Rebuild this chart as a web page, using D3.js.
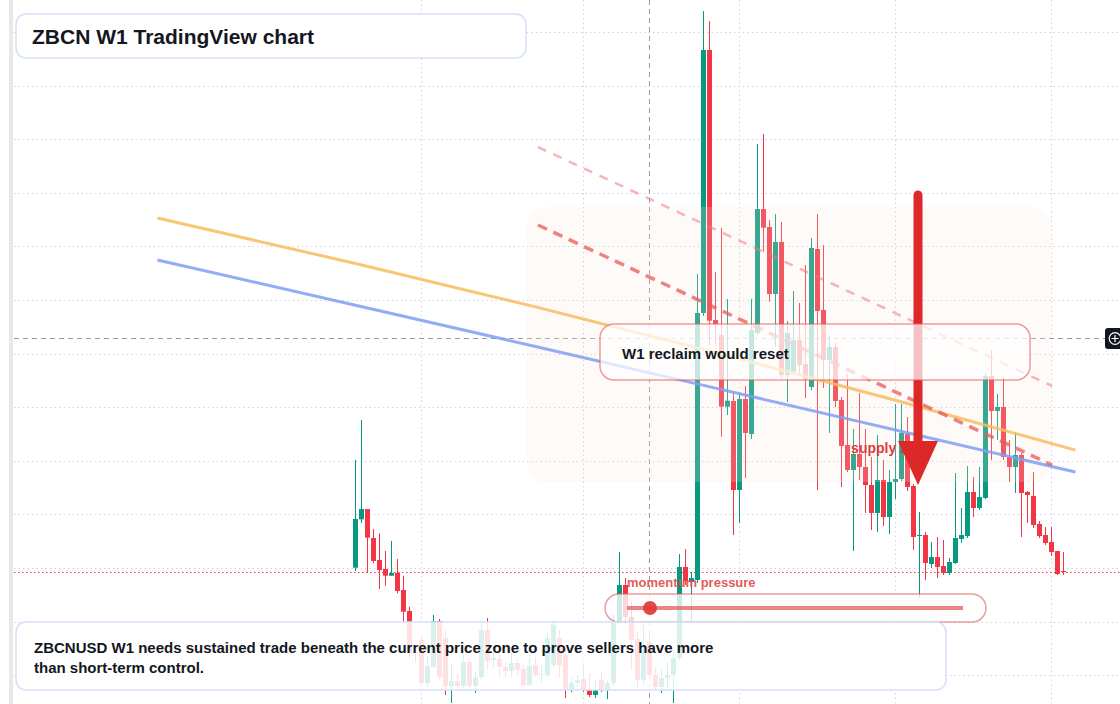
<!DOCTYPE html>
<html><head><meta charset="utf-8">
<script src="https://cdn.jsdelivr.net/npm/d3@7"></script>
<style>html,body{margin:0;padding:0;background:#fff;overflow:hidden}svg{display:block}</style>
</head><body><svg id="c" width="1120" height="704"></svg>
<script>
// ---- data (weekly candles, price in 1e-4 USD units) ----
const opens = [13.63,18.47,19.5,16.6,14.4,13.5,12.83,13.1,11.4,9.3,
5.1,6.4,2.1,3.7,8.3,6.6,1.8,2.3,1.8,4.2,
1.8,2.7,7.4,4.4,4.5,3.7,3.3,4.1,3.5,1.9,
3.9,2.95,2.9,3.9,6.6,4.9,1.4,2.1,2.5,1.4,
0.9,2.4,1.5,2.1,8.2,11.9,8.7,6.5,2.4,6.2,
2.9,1.7,2.6,2.9,4.6,13.7,12.2,12.4,39.1,65.4,
38.4,36.9,29.73,30.3,21.4,30.5,27.0,37.1,49.5,47.7,
41.0,46.2,32.9,33.2,36.4,34.0,31.7,45.5,39.4,34.4,
35.7,30.4,25.9,23.4,25.0,23.7,21.9,19.1,22.4,18.7,
22.2,22.5,27.0,21.8,16.8,16.9,14.0,14.7,13.8,13.1,
14.1,16.5,16.8,21.2,19.6,20.6,32.8,29.3,29.7,24.7,
23.7,24.9,21.2,20.8,18.0,16.9,16.2,15.3,13.3];
const highs = [24.4,28.4,19.5,17.5,17.07,15.3,16.3,14.5,12.83,9.73,
5.4,6.9,4.7,8.9,8.5,7.4,4.1,3.0,5.1,4.6,
3.2,8.1,8.6,5.1,5.1,4.2,5.1,4.6,3.9,4.7,
4.7,3.9,7.1,8.3,7.4,5.6,2.6,2.9,4.1,3.1,
2.4,3.2,2.4,8.9,15.2,12.6,10.2,7.2,7.9,7.1,
3.6,3.4,4.1,5.4,15.0,15.5,13.2,43.0,69.3,68.3,
43.2,47.6,40.5,31.2,31.1,31.8,40.5,56.0,57.0,48.4,
49.0,48.2,38.3,41.3,40.1,43.9,46.6,49.0,45.9,36.9,
36.1,30.7,33.0,27.5,31.1,27.5,24.7,26.9,24.4,23.4,
30.0,30.0,28.7,22.0,19.2,17.2,16.2,16.7,16.4,14.6,
23.1,19.6,23.8,22.7,23.7,33.1,35.4,31.0,32.7,26.4,
27.2,25.1,21.3,23.2,18.3,17.7,17.7,15.3,15.2];
const lows = [13.3,18.1,13.1,14.07,11.5,11.83,12.83,11.07,8.17,4.6,
4.2,1.8,1.7,3.6,2.4,0.9,0.1,1.4,1.6,1.4,
1.1,2.4,3.4,3.7,2.7,2.7,2.7,2.9,1.7,1.8,
2.7,2.2,2.7,3.7,2.6,0.6,1.2,1.7,1.2,0.7,
0.6,1.2,0.5,1.8,7.9,7.9,3.4,1.6,2.0,2.4,
1.4,1.1,1.4,0.1,4.4,11.9,8.1,12.1,38.8,35.9,
35.9,26.73,28.9,16.9,18.1,22.6,26.5,36.9,45.23,40.23,
35.73,32.6,30.2,32.9,33.1,30.6,31.4,21.4,31.6,27.1,
29.7,21.7,23.2,15.3,22.4,19.1,17.4,17.2,17.8,17.0,
20.5,22.3,21.3,15.4,10.6,12.4,13.6,12.6,12.9,12.9,
14.0,16.1,16.6,18.7,19.4,20.5,24.4,26.4,24.4,22.2,
21.1,16.7,18.1,17.6,16.6,15.9,14.8,12.9,12.9];
const closes = [18.5,19.5,16.63,14.3,13.4,12.83,13.1,11.3,9.23,5.1,
5.2,2.1,3.8,8.3,2.7,1.8,2.3,1.8,4.2,1.8,
2.7,7.4,4.3,4.6,3.7,3.3,4.1,3.4,1.9,3.8,
2.9,3.0,6.6,7.9,3.9,1.4,2.1,2.4,1.4,0.9,
1.4,1.4,2.1,8.2,11.9,8.7,6.4,2.4,5.4,2.9,
1.7,2.6,2.9,4.6,13.7,12.3,12.6,39.1,65.4,38.33,
38.0,29.73,30.33,21.4,30.5,27.1,37.4,49.5,47.63,41.0,
46.2,32.9,37.1,36.4,33.9,32.4,45.6,39.3,34.4,35.7,
30.3,25.8,23.4,25.0,23.7,21.9,19.1,22.4,18.7,22.2,
22.5,27.1,21.7,16.7,16.9,14.1,14.7,13.7,13.1,14.2,
16.6,16.9,21.2,19.6,20.7,32.8,29.3,29.7,24.7,23.7,
24.9,21.1,20.9,17.9,16.8,16.1,15.2,13.0,13.2];

// moving-average style curves (bar index, price)
const maIdx = [-33, 0, 30, 60, 90, 120];
const blueMA = [44.4, 39.88, 35.75, 31.59, 27.4, 23.2];
const yellowMA = [48.6, 44.05, 39.71, 35.15, 30.37, 25.39];
// drawn trend lines: [startIndex, startPrice, endIndex, endPrice]
const trendStrong = [30.4, 47.9, 116.1, 23.9];
const trendLight = [30.4, 55.7, 116.1, 31.8];
// shaded supply zone: [index0, index1, priceTop, priceBottom]
const zoneBox = [28.6, 115.75, 49.7, 22.2];
// arrow: [index, priceStart, priceHeadBase, priceTip]
const arrowPts = [93.75, 50.9, 26.3, 21.9];
const supplyLabel = [82.6, 25.1];
// grid
const gridPrices = [2.88, 8.24, 13.6, 18.96, 24.32, 29.68, 35.04, 40.4, 45.76, 51.12, 56.48, 61.84, 67.2];
const gridBars = [11, 38, 64, 90, 116];
const crossBar = 49, crossPrice = 36.6;

const title = "ZBCN W1 TradingView chart";
const note = ["ZBCNUSD W1 needs sustained trade beneath the current price zone to prove sellers have more", "than short-term control."];
const boxLabel = "W1 reclaim would reset";
const momLabel = "momentum pressure";
const zoneLabel = "supply zone";

// ---- drawing ----
const W = 1120, H = 704;
const FONT = "'Liberation Sans', Arial, Helvetica, sans-serif";
const UP = "#089981", DN = "#f23645";
const svg = d3.select("#c");
const x = d3.scaleLinear().domain([0, 118]).range([355.5, 1063.5]);
const y = d3.scaleLinear().domain([0, 70.4]).range([704, 0]);

svg.append("rect").attr("width", W).attr("height", H).attr("fill", "#fff");
svg.append("rect").attr("x", 9).attr("y", 0).attr("width", 4).attr("height", H).attr("fill", "#e8e8e8");

// grid
svg.append("g").selectAll("line").data(gridPrices).join("line")
  .attr("x1", 14).attr("x2", W).attr("y1", d => Math.round(y(d)) + 0.5).attr("y2", d => Math.round(y(d)) + 0.5)
  .attr("stroke", "#cfd3da").attr("stroke-dasharray", "1.5,3");
svg.append("g").selectAll("line").data(gridBars).join("line")
  .attr("x1", d => x(d)).attr("x2", d => x(d)).attr("y1", 0).attr("y2", H)
  .attr("stroke", "#cfd3da").attr("stroke-dasharray", "1.5,3");

// crosshair
svg.append("line").attr("x1", x(crossBar)).attr("x2", x(crossBar)).attr("y1", 0).attr("y2", H)
  .attr("stroke", "#9a9da5").attr("stroke-dasharray", "5,4");
svg.append("line").attr("x1", 14).attr("x2", 1106).attr("y1", Math.round(y(crossPrice)) + 0.5).attr("y2", Math.round(y(crossPrice)) + 0.5)
  .attr("stroke", "#9a9da5").attr("stroke-dasharray", "5,4");

// last price line
const lastClose = closes[closes.length - 1];
svg.append("line").attr("x1", 14).attr("x2", W).attr("y1", Math.round(y(lastClose)) + 0.5).attr("y2", Math.round(y(lastClose)) + 0.5)
  .attr("stroke", DN).attr("stroke-dasharray", "1.5,2.5");

// candles
const candles = d3.range(opens.length).map(i => ({ i, o: opens[i], h: highs[i], l: lows[i], c: closes[i] }));
const cg = svg.append("g");
cg.selectAll("line").data(candles).join("line")
  .attr("x1", d => x(d.i)).attr("x2", d => x(d.i))
  .attr("y1", d => y(d.h)).attr("y2", d => y(d.l))
  .attr("stroke", d => d.c >= d.o ? UP : DN).attr("stroke-width", 1);
cg.selectAll("rect").data(candles).join("rect")
  .attr("x", d => x(d.i) - 2.5).attr("width", 5)
  .attr("y", d => y(Math.max(d.o, d.c)))
  .attr("height", d => Math.max(1, Math.abs(y(d.o) - y(d.c))))
  .attr("fill", d => d.c >= d.o ? UP : DN);

// zone overlay
svg.append("rect")
  .attr("x", x(zoneBox[0])).attr("y", y(zoneBox[2]))
  .attr("width", x(zoneBox[1]) - x(zoneBox[0])).attr("height", y(zoneBox[3]) - y(zoneBox[2]))
  .attr("rx", 18).attr("fill", "rgb(248,232,220)").attr("fill-opacity", 0.2);

// MA curves
const line = d3.line().x(d => x(d[0])).y(d => y(d[1])).curve(d3.curveMonotoneX);
svg.append("path").attr("d", line(maIdx.map((d, k) => [d, yellowMA[k]])))
  .attr("fill", "none").attr("stroke", "#f7bd5e").attr("stroke-opacity", 0.85).attr("stroke-width", 3);
svg.append("path").attr("d", line(maIdx.map((d, k) => [d, blueMA[k]])))
  .attr("fill", "none").attr("stroke", "#7f9ff3").attr("stroke-opacity", 0.85).attr("stroke-width", 3);

// trend lines
svg.append("line").attr("x1", x(trendLight[0])).attr("y1", y(trendLight[1])).attr("x2", x(trendLight[2])).attr("y2", y(trendLight[3]))
  .attr("stroke", "#ef7a7a").attr("stroke-opacity", 0.55).attr("stroke-width", 2.5).attr("stroke-dasharray", "9,8");
svg.append("line").attr("x1", x(trendStrong[0])).attr("y1", y(trendStrong[1])).attr("x2", x(trendStrong[2])).attr("y2", y(trendStrong[3]))
  .attr("stroke", "#e85a5a").attr("stroke-opacity", 0.75).attr("stroke-width", 3.5).attr("stroke-dasharray", "10,7");

// supply label
svg.append("text").attr("x", x(supplyLabel[0])).attr("y", y(supplyLabel[1]))
  .attr("font-family", FONT).attr("font-weight", "bold").attr("font-size", 14)
  .attr("fill", "#e03c3c").text(zoneLabel);

// arrow
const ax = x(arrowPts[0]);
svg.append("line").attr("x1", ax).attr("x2", ax).attr("y1", y(arrowPts[1])).attr("y2", y(arrowPts[2]) + 4)
  .attr("stroke", "#dc2828").attr("stroke-width", 9).attr("stroke-linecap", "round");
svg.append("path").attr("d", `M${ax - 20},${y(arrowPts[2])}L${ax + 20},${y(arrowPts[2])}L${ax},${y(arrowPts[3])}Z`)
  .attr("fill", "#dc2828");

// W1 box
svg.append("rect").attr("x", 600).attr("y", 324).attr("width", 430).attr("height", 56).attr("rx", 14)
  .attr("fill", "#fff").attr("fill-opacity", 0.72).attr("stroke", "#e25c5c").attr("stroke-opacity", 0.6).attr("stroke-width", 1.5);
svg.append("text").attr("x", 622).attr("y", 358.5).attr("font-family", FONT).attr("font-weight", "bold").attr("font-size", 15)
  .attr("fill", "#131722").text(boxLabel);

// momentum pill
svg.append("text").attr("x", 627).attr("y", 586.5).attr("font-family", FONT).attr("font-weight", "bold").attr("font-size", 13)
  .attr("fill", "#e04545").attr("fill-opacity", 0.9).text(momLabel);
svg.append("rect").attr("x", 605).attr("y", 594).attr("width", 381).attr("height", 28).attr("rx", 14)
  .attr("fill", "#fff").attr("fill-opacity", 0.8).attr("stroke", "#e25c5c").attr("stroke-opacity", 0.6).attr("stroke-width", 1.5);
svg.append("line").attr("x1", 627).attr("x2", 963).attr("y1", 608).attr("y2", 608)
  .attr("stroke", "#e45c5c").attr("stroke-opacity", 0.75).attr("stroke-width", 4);
svg.append("circle").attr("cx", 650).attr("cy", 608).attr("r", 7).attr("fill", "#e03535").attr("fill-opacity", 0.9);

// bottom note box
svg.append("rect").attr("x", 16).attr("y", 622).attr("width", 930).attr("height", 68).attr("rx", 10)
  .attr("fill", "#fff").attr("fill-opacity", 0.85).attr("stroke", "#d3e1f6").attr("stroke-width", 1.5);
svg.append("g").selectAll("text").data(note).join("text")
  .attr("x", 34).attr("y", (d, k) => 652.5 + k * 20)
  .attr("font-family", FONT).attr("font-weight", "bold").attr("font-size", 15).attr("fill", "#131722").text(d => d);

// title box
svg.append("rect").attr("x", 16).attr("y", 14).attr("width", 510).attr("height", 44).attr("rx", 10)
  .attr("fill", "#fff").attr("stroke", "#d3e1f6").attr("stroke-width", 1.5);
svg.append("text").attr("x", 32).attr("y", 43.5).attr("font-family", FONT).attr("font-weight", "bold").attr("font-size", 21)
  .attr("fill", "#131722").text(title);

// crosshair + button
const cy = Math.round(y(crossPrice)) + 0.5;
svg.append("rect").attr("x", 1105).attr("y", cy - 10.5).attr("width", 22).attr("height", 21).attr("rx", 3).attr("fill", "#131722");
svg.append("circle").attr("cx", 1115).attr("cy", cy).attr("r", 5.8).attr("fill", "none").attr("stroke", "#fff").attr("stroke-width", 1.2);
svg.append("path").attr("d", `M1111.5,${cy}H1118.5M1115,${cy - 3.5}V${cy + 3.5}`).attr("stroke", "#fff").attr("stroke-width", 1.2);
</script></body></html>
